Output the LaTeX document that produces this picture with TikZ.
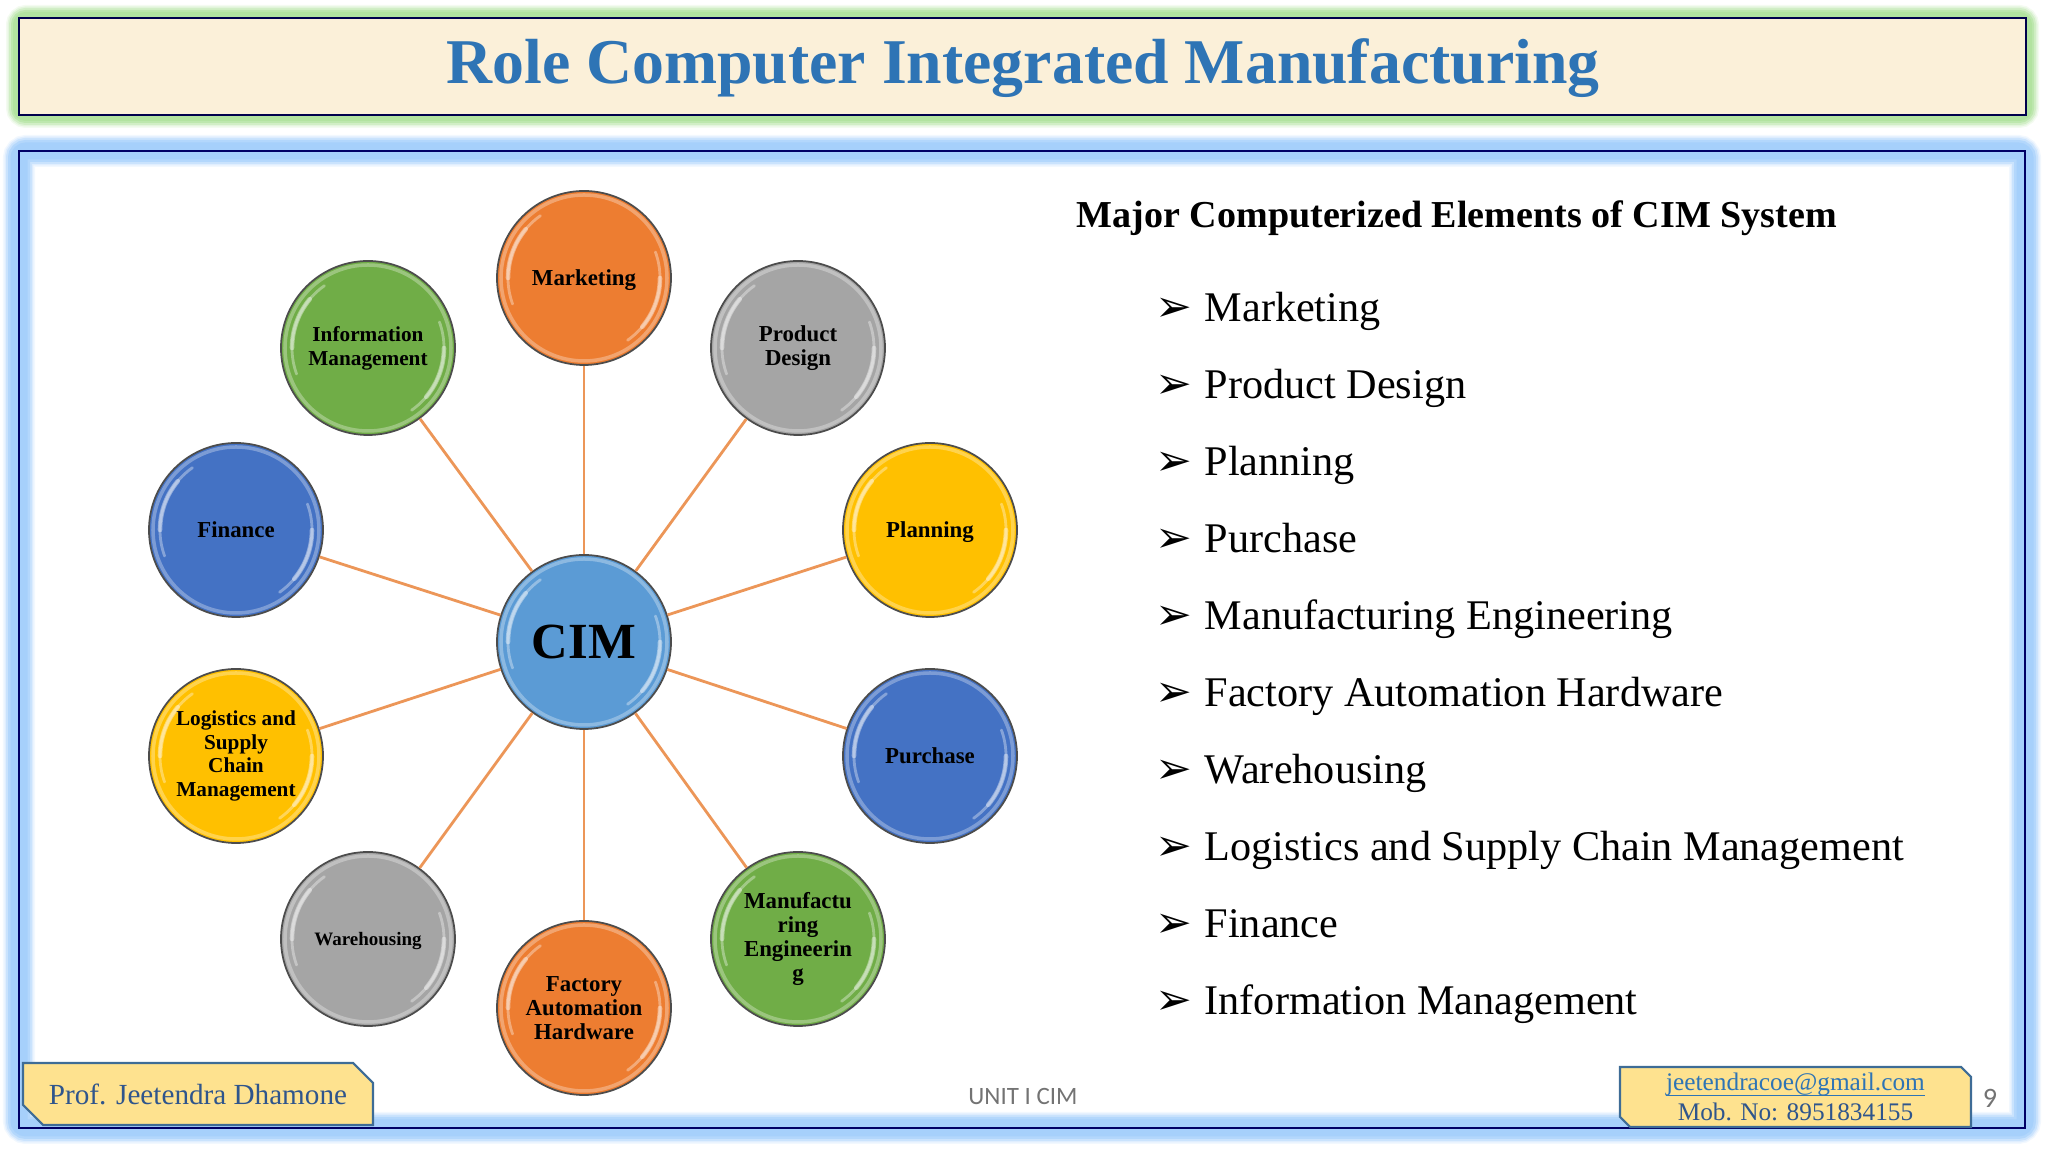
\documentclass[tikz,border=0pt]{standalone}
\usepackage{fontspec}
\usepackage{tikz}
\usetikzlibrary{shapes.misc}
\setmainfont{Liberation Serif}
\newfontfamily\symfont{DejaVu Sans}
\newfontfamily\footfont{Carlito}
\definecolor{cimblue}{RGB}{91,155,213}
\definecolor{cimorange}{RGB}{237,125,49}
\definecolor{cimgreen}{RGB}{112,173,71}
\definecolor{cimgray}{RGB}{165,165,165}
\definecolor{cimgold}{RGB}{255,192,0}
\definecolor{cimdeep}{RGB}{68,114,196}
\definecolor{titleblue}{RGB}{46,116,181}
\definecolor{parchment}{RGB}{251,240,217}
\definecolor{glowgreen}{RGB}{178,227,160}
\definecolor{glowblue}{RGB}{166,208,251}
\definecolor{spoke}{RGB}{236,150,88}
\definecolor{tagfill}{RGB}{254,226,143}
\definecolor{tagline}{RGB}{62,108,150}
\definecolor{tagtext}{RGB}{47,85,140}
\newcommand{\nodepth}[1]{\raisebox{0pt}[\height][0pt]{#1}}
\newcommand{\tightfont}{\fontsize{6.05}{6.4}\selectfont}
\tikzset{
  disc/.style={circle, minimum size=1.74cm, inner sep=0pt, draw=black!70, line width=0.5pt, align=center, text=black},
  small/.style={font=\bfseries\fontsize{6.5}{6.8}\selectfont},
  item/.style={anchor=base west, inner sep=0pt, font=\fontsize{12.02}{14}\selectfont},
  tag/.style={chamfered rectangle, chamfered rectangle corners={north east,south west},
    chamfered rectangle xsep=0.1cm, chamfered rectangle ysep=0.1cm, fill=tagfill, draw=tagline,
    line width=0.6pt, inner sep=0pt}
}
\begin{document}
\begin{tikzpicture}[scale=1]
  \useasboundingbox (0,0) rectangle (20.48,11.52);

  % Title band
  \foreach \w/\c in {0.26/15,0.23/35,0.20/60,0.16/85,0.12/100}
    \draw[glowgreen!\c!white, line width=\w cm, rounded corners=2pt] (0.19,10.37) rectangle (20.26,11.34);
  \draw[draw=black!70!blue, fill=parchment, line width=0.6pt] (0.19,10.37) rectangle (20.26,11.34);
  \node[inner sep=0pt, anchor=base, text=titleblue, font=\bfseries\fontsize{18.14}{22}\selectfont] (title) at (10.23,10.68) {Role Computer Integrated Manufacturing};

  % Body frame
  \foreach \w/\c in {0.32/15,0.29/35,0.26/60,0.22/85,0.17/100}
    \draw[glowblue!\c!white, line width=\w cm, rounded corners=2pt] (0.19,0.24) rectangle (20.25,10.01);
  \draw[black!60!blue, line width=0.6pt] (0.19,0.24) rectangle (20.25,10.01);

  % Hub and satellites
  \node[disc, fill=cimblue, font=\bfseries\fontsize{14.4}{16}\selectfont] (cim) at (5.84,5.10) {CIM};
  \foreach \name/\xx/\yy/\col/\txt in {
      marketing/5.84/8.74/cimorange/\nodepth{Marketing},
      design/7.98/8.04/cimgray/Product\\Design,
      planning/9.30/6.22/cimgold/\nodepth{Planning},
      purchase/9.30/3.96/cimdeep/Purchase,
      engineering/7.98/2.13/cimgreen/Manufactu\\ring\\Engineerin\\g,
      hardware/5.84/1.44/cimorange/Factory\\Automation\\Hardware,
      warehousing/3.68/2.13/cimgray/{\fontsize{5.4}{6.4}\selectfont\nodepth{Warehousing}},
      logistics/2.36/3.96/cimgold/{\tightfont Logistics and}\\{\tightfont Supply}\\{\tightfont Chain}\\{\tightfont Management},
      finance/2.36/6.22/cimdeep/Finance,
      information/3.68/8.04/cimgreen/{\tightfont Information}\\{\tightfont Management}}
    \node[disc, small, fill=\col] (\name) at (\xx,\yy) {\txt};

  % Glass rim on every disc
  \foreach \name in {cim,marketing,design,planning,purchase,engineering,hardware,warehousing,logistics,finance,information} {
    \draw[white, opacity=0.3, line width=1pt] (\name.center) circle (0.83);
    \draw[white, opacity=0.35, line width=0.8pt, line cap=round] ([shift={(125:0.76)}]\name.center) arc (125:200:0.76);
    \draw[white, opacity=0.4, line width=1.3pt, line cap=round] ([shift={(140:0.76)}]\name.center) arc (140:180:0.76);
    \draw[white, opacity=0.35, line width=0.8pt, line cap=round] ([shift={(-55:0.76)}]\name.center) arc (-55:20:0.76);
    \draw[white, opacity=0.4, line width=1.3pt, line cap=round] ([shift={(-40:0.76)}]\name.center) arc (-40:0:0.76);
  }

  % Spokes
  \foreach \name in {marketing,design,planning,purchase,engineering,hardware,warehousing,logistics,finance,information}
    \draw[spoke, line width=0.8pt] (cim) -- (\name);

  % Right hand list
  \node[inner sep=0pt, anchor=base west, font=\bfseries\fontsize{10.83}{13}\selectfont] (heading) at (10.76,9.24) {Major Computerized Elements of CIM System};
  \foreach \txt [count=\i] in {Marketing,Product Design,Planning,Purchase,Manufacturing Engineering,
      Factory Automation Hardware,Warehousing,Logistics and Supply Chain Management,Finance,Information Management} {
    \node[item, font=\symfont\bfseries\fontsize{12.5}{15}\selectfont] (mark\i) at (11.55,{8.30-(\i-1)*0.769}) {➢};
    \node[item] (entry\i) at (12.04,{8.30-(\i-1)*0.769}) {\txt};
  }

  % Footer
  \node[tag, minimum width=3.50cm, minimum height=0.62cm, text=tagtext, font=\fontsize{8.3}{9.2}\selectfont] (author) at (1.98,0.58) {Prof. Jeetendra Dhamone};
  \node[tag, minimum width=3.51cm, minimum height=0.60cm] (contact) at (17.955,0.55) {\strut};
  \node[inner sep=0pt, align=center, text=tagtext, font=\fontsize{7.2}{8.5}\selectfont] (contacttext) at (contact.center) {\textcolor{titleblue}{\underline{\nodepth{jeetendracoe@gmail.com}}}\\Mob. No: 8951834155};
  \node[inner sep=0pt, text=black!55, font=\footfont\fontsize{7.1}{9}\selectfont] (unit) at (10.23,0.55) {UNIT I CIM};
  \node[inner sep=0pt, text=black!55, font=\footfont\fontsize{8}{9}\selectfont] (page) at (19.90,0.54) {9};
\end{tikzpicture}
\end{document}
